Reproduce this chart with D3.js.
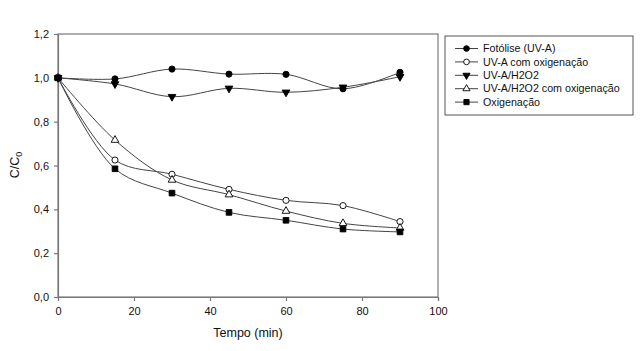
<!DOCTYPE html>
<html>
<head>
<meta charset="utf-8">
<script src="https://cdn.jsdelivr.net/npm/d3@7"></script>
<style>
  body { margin: 0; background: #fff; }
  text { font-family: "Liberation Sans", Arial, sans-serif; fill: #111; }
</style>
</head>
<body>
<div id="chart"></div>
<script>
// data
const times = [0, 15, 30, 45, 60, 75, 90];
const fotolise = [1.0, 0.995, 1.04, 1.017, 1.016, 0.95, 1.025];
const uvaOxig = [1.0, 0.625, 0.56, 0.491, 0.441, 0.417, 0.344];
const uvaH2o2 = [1.0, 0.972, 0.914, 0.952, 0.934, 0.957, 1.005];
const uvaH2o2Oxig = [1.0, 0.716, 0.534, 0.467, 0.392, 0.336, 0.315];
const oxigenacao = [1.0, 0.585, 0.474, 0.386, 0.35, 0.31, 0.297];
const xTicks = [0, 20, 40, 60, 80, 100];
const yTicks = [0, 0.2, 0.4, 0.6, 0.8, 1.0, 1.2];

const series = [
  { label: "Fotólise (UV-A)", values: fotolise, symbol: d3.symbolCircle, fill: "#000" },
  { label: "UV-A com oxigenação", values: uvaOxig, symbol: d3.symbolCircle, fill: "#fff" },
  { label: "UV-A/H2O2", values: uvaH2o2, symbol: "tridown", fill: "#000" },
  { label: "UV-A/H2O2 com oxigenação", values: uvaH2o2Oxig, symbol: d3.symbolTriangle, fill: "#fff" },
  { label: "Oxigenação", values: oxigenacao, symbol: d3.symbolSquare, fill: "#000" }
];

const margin = { top: 34, right: 202, bottom: 54, left: 58 };
const outerWidth = 640;
const outerHeight = 351;
const width = outerWidth - margin.left - margin.right;
const height = outerHeight - margin.top - margin.bottom;

const svg = d3.select("#chart").append("svg")
  .attr("width", outerWidth)
  .attr("height", outerHeight);

const g = svg.append("g")
  .attr("transform", `translate(${margin.left}, ${margin.top})`);

const x = d3.scaleLinear().domain([0, 100]).range([0, width]);
const y = d3.scaleLinear().domain([0, 1.2]).range([height, 0]);

const fmt = d => d3.format(".1f")(d).replace(".", ",");
const axisColor = "#7a7a7a";

// frame
g.append("rect")
  .attr("width", width)
  .attr("height", height)
  .attr("fill", "none")
  .attr("stroke", axisColor)
  .attr("stroke-width", 1.2);

const xAxis = g.append("g")
  .attr("transform", `translate(0, ${height})`)
  .call(d3.axisBottom(x).tickValues(xTicks).tickSize(4).tickPadding(6).tickFormat(d3.format("d")));

const yAxis = g.append("g")
  .call(d3.axisLeft(y).tickValues(yTicks).tickSize(4).tickPadding(5).tickFormat(fmt));

[xAxis, yAxis].forEach(a => {
  a.select(".domain").attr("stroke", axisColor).attr("stroke-width", 1.2);
  a.selectAll(".tick line").attr("stroke", axisColor).attr("stroke-width", 1.2);
  a.selectAll(".tick text").style("font-family", "Liberation Sans, Arial, sans-serif").style("font-size", "11px").attr("fill", "#111");
});

// symbol helper
const symbolPath = (s, size) => {
  if (s === "tridown") {
    return d3.symbol().type(d3.symbolTriangle).size(size)();
  }
  return d3.symbol().type(s).size(size)();
};
const symbolSize = s => s === d3.symbolSquare ? 32 : (s === d3.symbolCircle ? 30 : 26);

const line = d3.line()
  .x((d, i) => x(times[i]))
  .y(d => y(d))
  .curve(d3.curveCatmullRom.alpha(0.5));

series.forEach(s => {
  g.append("path")
    .datum(s.values)
    .attr("d", line)
    .attr("fill", "none")
    .attr("stroke", "#444")
    .attr("stroke-width", 1);
});

series.forEach(s => {
  g.selectAll(null)
    .data(s.values)
    .enter()
    .append("path")
    .attr("d", symbolPath(s.symbol, symbolSize(s.symbol)))
    .attr("transform", (d, i) => `translate(${x(times[i])}, ${y(d)})` + (s.symbol === "tridown" ? " rotate(180)" : ""))
    .attr("fill", s.fill)
    .attr("stroke", "#000")
    .attr("stroke-width", 0.9);
});

// labels
g.append("text")
  .attr("text-anchor", "middle")
  .attr("x", width / 2)
  .attr("y", height + 40)
  .style("font-size", "12.5px")
  .text("Tempo (min)");

const yl = g.append("text")
  .attr("text-anchor", "middle")
  .attr("transform", "rotate(-90)")
  .attr("x", -(165 - margin.top))
  .attr("y", -margin.left + 19)
  .style("font-size", "12.5px");
yl.append("tspan").text("C/C");
yl.append("tspan").attr("dy", 3).style("font-size", "9px").text("0");

// legend
const legend = svg.append("g").attr("transform", "translate(445, 36)");
legend.append("rect")
  .attr("width", 188)
  .attr("height", 79)
  .attr("fill", "#fff")
  .attr("stroke", "#555")
  .attr("stroke-width", 1);

const items = legend.selectAll(".legend")
  .data(series)
  .enter()
  .append("g")
  .attr("class", "legend")
  .attr("transform", (d, i) => `translate(0, ${12.5 + i * 13.4})`);

items.append("line")
  .attr("x1", 10).attr("x2", 33)
  .attr("stroke", "#444").attr("stroke-width", 1);

items.append("path")
  .attr("d", d => symbolPath(d.symbol, symbolSize(d.symbol) * 0.85))
  .attr("transform", d => "translate(21.5, 0)" + (d.symbol === "tridown" ? " rotate(180)" : ""))
  .attr("fill", d => d.fill)
  .attr("stroke", "#000")
  .attr("stroke-width", 0.9);

items.append("text")
  .attr("x", 38)
  .attr("dy", ".35em")
  .style("font-size", "10.7px")
  .text(d => d.label);
</script>
</body>
</html>
